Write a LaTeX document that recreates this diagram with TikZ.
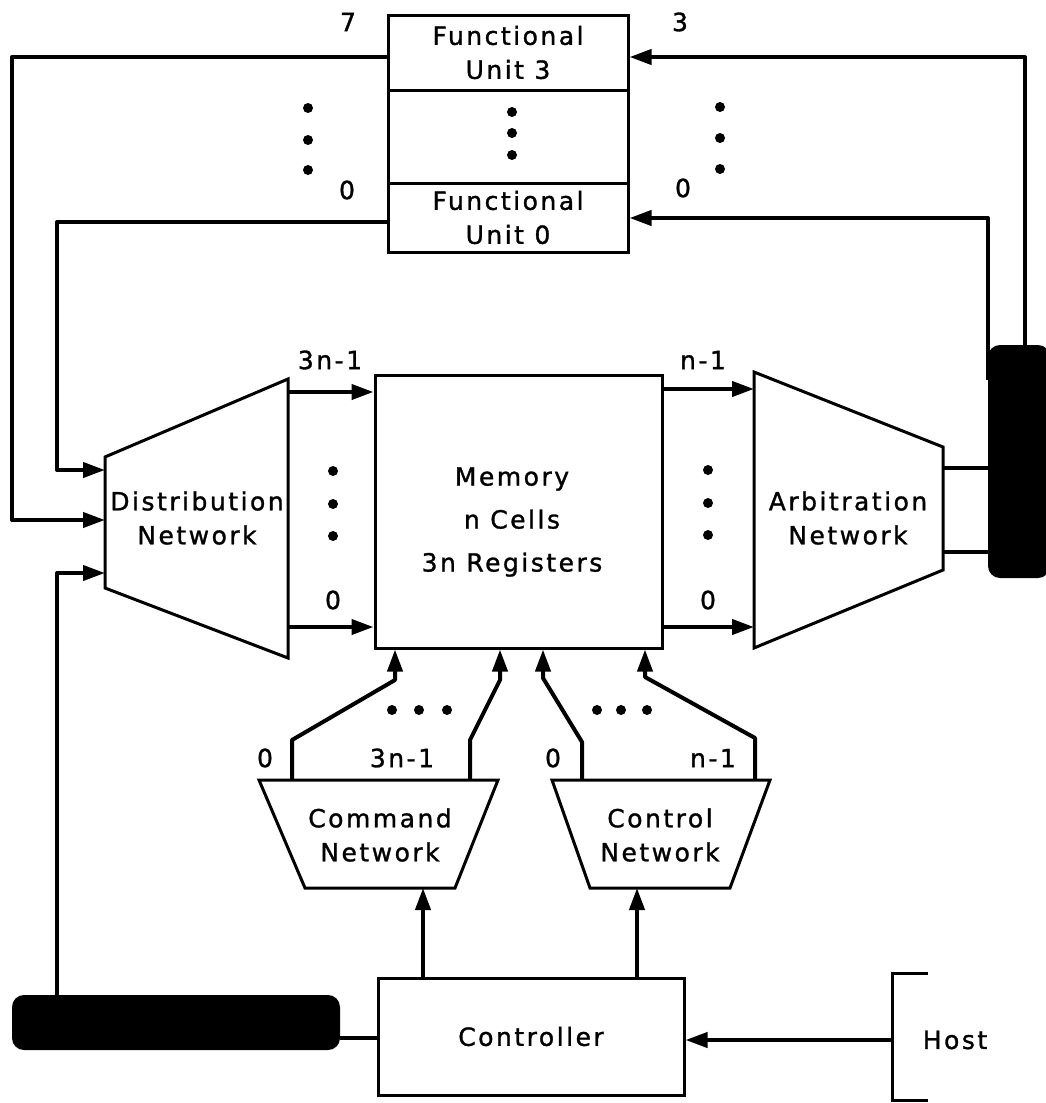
\documentclass[tikz,border=0pt]{standalone}
\usepackage{fontspec}
\setmainfont{DejaVu Sans}[LetterSpace=10, FakeBold=1.2]
\usetikzlibrary{arrows.meta}

\tikzset{
  box/.style={draw, line width=3pt, inner sep=0pt},
  txt/.style={font=\fontsize{25}{34}\selectfont, align=center, inner sep=0pt},
  wire/.style={line width=4pt, line join=round},
  arr/.style={wire, -{Triangle[length=22pt,width=15pt]}},
  bus/.style={fill=black, rounded corners=12pt, inner sep=0pt},
}

\begin{document}
\begin{tikzpicture}[x=1pt, y=-1pt]
    \useasboundingbox (0,0) rectangle (1046,1103);

    % Draw nodes
    \node[box, txt, minimum width=240pt, minimum height=75pt] (fu3) at (508,52.5) {Functional\\Unit 3};
    \node[box, minimum width=240pt, minimum height=93pt] (fudots) at (508,136.5) {};
    \node[box, txt, minimum width=240pt, minimum height=69pt] (fu0) at (508,217.5) {Functional\\Unit 0};
    \node[box, minimum width=287pt, minimum height=273pt] (mem) at (518.5,511.5) {};
    \node[txt] (memtxt) at (512,522) {Memory\\[9pt]n Cells\\[9pt]3n Registers};
    \node[box, txt, minimum width=306pt, minimum height=117pt] (ctrl) at (531,1036.5) {Controller};
    \node[txt] (host) at (955,1040) {Host};

    % Trapezoids
    \draw[line width=3pt] (105,457) coordinate (dist-nw) -- (288,379) coordinate (dist-ne)
        -- (288,658) coordinate (dist-se) -- (105,588) coordinate (dist-sw) -- cycle;
    \node[txt] (dist) at (197,518) {Distribution\\Network};
    \draw[line width=3pt] (754,372) coordinate (arb-nw) -- (943,447) coordinate (arb-ne)
        -- (943,570) coordinate (arb-se) -- (754,648) coordinate (arb-sw) -- cycle;
    \node[txt] (arb) at (848,518) {Arbitration\\Network};
    \draw[line width=3pt] (259,780) coordinate (cmd-nw) -- (498,780) coordinate (cmd-ne)
        -- (455,888) coordinate (cmd-se) -- (305,888) coordinate (cmd-sw) -- cycle;
    \node[txt] (cmd) at (380,835) {Command\\Network};
    \draw[line width=3pt] (552,780) coordinate (ctl-nw) -- (770,780) coordinate (ctl-ne)
        -- (730,888) coordinate (ctl-se) -- (590,888) coordinate (ctl-sw) -- cycle;
    \node[txt] (ctl) at (660,835) {Control\\Network};

    % Host bracket
    \draw[line width=3pt] (928,973) -- (892,973) coordinate (host-nw) -- (892,1100) -- (928,1100);

    % Buses
    \node[bus, minimum width=62pt, minimum height=233pt] (busR) at (1019,461.5) {};
    \node[bus, minimum width=328pt, minimum height=55pt] (busB) at (176,1022.5) {};

    % Draw connections
    \draw[arr] (fu3.west |- 0,57) -| (12,520) -- (dist-nw |- 0,520);
    \draw[arr] (fu0.west |- 0,222) -| (57,470) -- (dist-nw |- 0,470);
    \draw[arr] (busB.north -| 57,0) -- (57,573) -- (dist-sw |- 0,573);
    \draw[arr] (busR.north -| 1025,0) -- (1025,57) -- (fu3.east |- 0,57);
    \draw[arr] (busR.west |- 0,380) -- (busR.west |- 0,218) -- (fu0.east |- 0,218);
    \draw[wire] (arb-ne |- 0,468) -- (busR.west |- 0,468);
    \draw[wire] (arb-ne |- 0,552) -- (busR.west |- 0,552);
    \draw[arr] (dist-ne |- 0,392) -- (mem.west |- 0,392);
    \draw[arr] (dist-se |- 0,627) -- (mem.west |- 0,627);
    \draw[arr] (mem.east |- 0,389) -- (arb-nw |- 0,389);
    \draw[arr] (mem.east |- 0,627) -- (arb-nw |- 0,627);
    \draw[arr] (cmd-nw -| 292,0) -- (292,740) -- (395,680) -- (mem.south -| 395,0);
    \draw[arr] (cmd-nw -| 470,0) -- (470,740) -- (500,680) -- (mem.south -| 500,0);
    \draw[arr] (ctl-nw -| 582,0) -- (582,742) -- (543,678) -- (mem.south -| 543,0);
    \draw[arr] (ctl-nw -| 755,0) -- (755,738) -- (645,677) -- (mem.south -| 645,0);
    \draw[arr] (ctrl.north -| 423,0) -- (cmd-sw -| 423,0);
    \draw[arr] (ctrl.north -| 637,0) -- (ctl-sw -| 637,0);
    \draw[arr] (host-nw |- 0,1040) -- (ctrl.east |- 0,1040);
    \draw[wire] (ctrl.west |- 0,1038) -- (busB.east |- 0,1038);

    % Dots
    \foreach \x/\y in {512/112, 512/133, 512/155, 308/108, 308/140, 308/170,
                       720/107, 720/138, 720/169, 333/471, 333/504, 333/536,
                       708/470, 708/503, 708/535, 392/710, 419/710, 447/710,
                       597/710, 621/710, 647/710}
        \fill (\x,\y) circle (5pt);

    % Labels
    \node[txt] (l7) at (348,22) {7};
    \node[txt] (l0a) at (347,190) {0};
    \node[txt] (l3) at (680,22) {3};
    \node[txt] (l0b) at (683,188) {0};
    \node[txt] (l3n) at (330,360) {3n-1};
    \node[txt] (l0c) at (333,600) {0};
    \node[txt] (ln) at (703,360) {n-1};
    \node[txt] (l0d) at (708,600) {0};
    \node[txt] (l0e) at (265,758) {0};
    \node[txt] (l3nb) at (402,758) {3n-1};
    \node[txt] (l0f) at (553,758) {0};
    \node[txt] (lnb) at (713,758) {n-1};
\end{tikzpicture}
\end{document}
